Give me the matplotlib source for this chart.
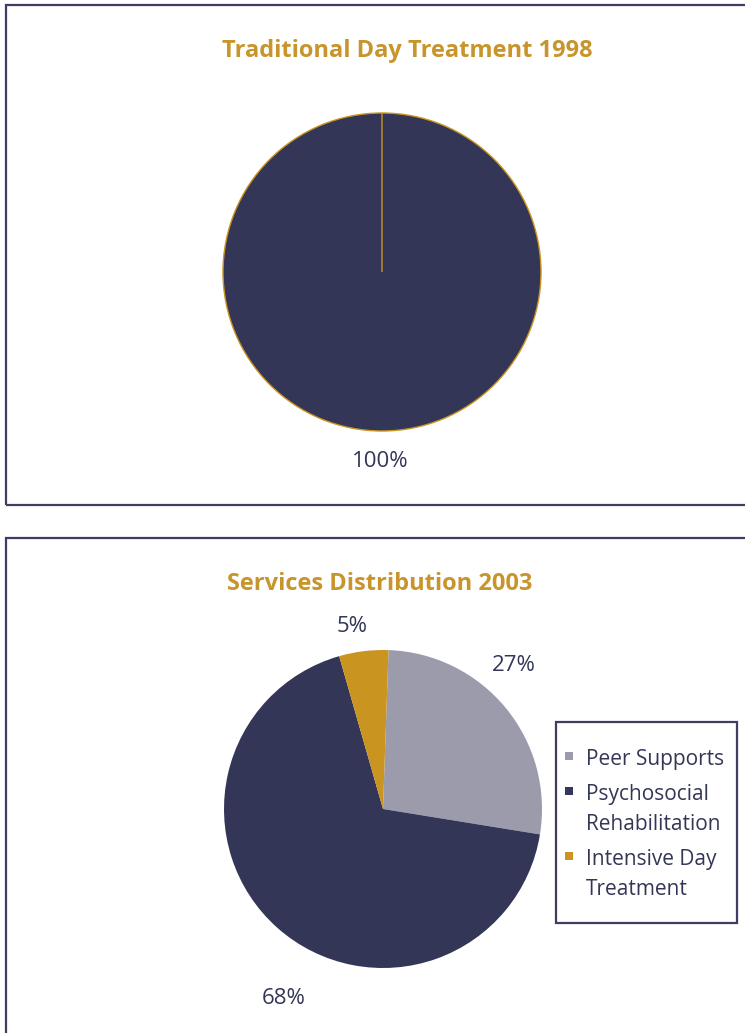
import matplotlib
matplotlib.use("Agg")
import matplotlib.pyplot as plt
from matplotlib.patches import Rectangle
from matplotlib.lines import Line2D

W, H = 745, 1033

# Service categories and their shares (%)
categories = ["Peer Supports", "Psychosocial\nRehabilitation", "Intensive Day\nTreatment"]
share_1998 = [0, 100, 0]
share_2003 = [27, 68, 5]
panel_titles = ["Traditional Day Treatment 1998", "Services Distribution 2003"]

NAVY = "#343657"
GREY = "#9b9bac"
GOLD = "#c9941f"
TITLE = "#c8952c"
FRAME = "#3d3e62"
slice_colors = [GREY, NAVY, GOLD]

plt.rcParams["font.family"] = ["Open Sans", "DejaVu Sans"]

fig = plt.figure(figsize=(W / 100, H / 100), dpi=100)
ax = fig.add_axes([0, 0, 1, 1])


def Y(y):
    """Convert a row counted from the top of the page into axis units."""
    return H - y


# Panel frames
for top, height in [(5, 500), (538, 600)]:
    ax.add_patch(Rectangle((6, Y(top + height)), 900, height, fill=False,
                           edgecolor=FRAME, linewidth=1.6, zorder=0))

# 1998 pie
ax.pie(share_1998, colors=slice_colors, startangle=90, counterclock=False,
       center=(382, Y(272)), radius=159,
       wedgeprops=dict(edgecolor=GOLD, linewidth=1.0))

# 2003 pie
wedges, _ = ax.pie(share_2003, colors=slice_colors, startangle=88, counterclock=False,
                   center=(383, Y(809)), radius=159,
                   wedgeprops=dict(linewidth=0))

# Percentage labels
label_pos_1998 = {1: (380, 467)}
label_pos_2003 = {0: (514, 671), 1: (284, 1004), 2: (352, 632)}
for values, positions in [(share_1998, label_pos_1998), (share_2003, label_pos_2003)]:
    for i, (x, y) in positions.items():
        ax.text(x, Y(y), f"{values[i]}%", ha="center", va="baseline",
                fontsize=16, color=NAVY)

# Titles
for title, (x, y) in zip(panel_titles, [(407, 57), (380, 590)]):
    ax.text(x, Y(y), title, ha="center", va="baseline", fontsize=17,
            fontweight="bold", color=TITLE)

# Legend
ax.add_patch(Rectangle((556, Y(923)), 181, 201, fill=False,
                       edgecolor=FRAME, linewidth=1.6))
handles = [Line2D([], [], marker="s", linestyle="none", markersize=6,
                  markerfacecolor=c, markeredgewidth=0) for c in slice_colors]
leg = ax.legend(handles, categories, loc="upper left",
                bbox_to_anchor=(563 / W, 1 - 749 / H), bbox_transform=fig.transFigure,
                frameon=False, fontsize=15, handlelength=0.6, handleheight=0.5,
                handletextpad=0.5, labelspacing=0.68, borderpad=0, borderaxespad=0,
                labelcolor=NAVY)
for t in leg.get_texts():
    t.set_linespacing(1.55)
for col in leg._legend_handle_box.get_children():
    for row in col.get_children():
        row.align = "top"

ax.set_xlim(0, W)
ax.set_ylim(0, H)
ax.set_aspect("equal")
ax.axis("off")

fig.savefig("out.png", dpi=100)
